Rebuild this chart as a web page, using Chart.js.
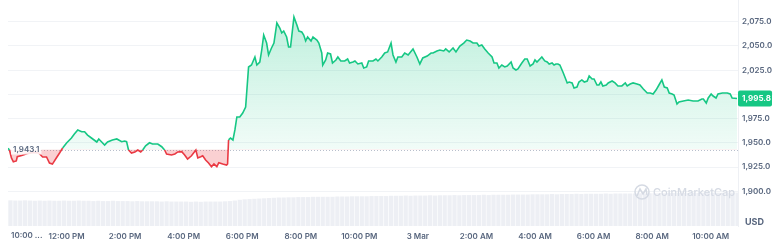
<!DOCTYPE html>
<html>
<head>
<meta charset="utf-8">
<script src="https://cdn.jsdelivr.net/npm/chart.js@4.4.1/dist/chart.umd.min.js"></script>
<style>
  html, body { margin: 0; padding: 0; background: #fff; }
  #wrap { width: 775px; height: 244px; position: relative; }
</style>
</head>
<body>
<div id="wrap"><canvas id="priceChart" width="775" height="244"></canvas></div>
<script>
// minutes since 10:00 AM (2 Mar)
const times = [0,3,7,11,17,19,28,40,52,63,71,79,85,91,99,106,112,120,130,136,143,151,157,163,171,182,186,192,198,204,214,223,233,239,243,247,253,260,266,272,276,282,290,296,307,315,321,325,335,342,348,356,362,368,376,385,389,395,399,405,411,417,422,428,432,440,448,450,452,456,461,465,469,475,481,487,493,499,506,510,516,520,524,530,534,540,545,551,557,561,565,571,575,579,586,592,596,602,606,610,614,621,625,633,637,643,645,651,655,661,665,672,676,682,690,696,700,707,711,717,725,729,735,739,748,754,758,766,772,778,785,789,795,799,807,813,820,830,838,844,850,859,867,871,879,885,893,897,904,912,918,926,934,940,947,953,961,965,971,977,984,992,996,1002,1006,1012,1018,1023,1031,1035,1041,1045,1053,1059,1064,1070,1076,1080,1084,1090,1094,1100,1105,1109,1115,1119,1123,1127,1131,1138,1146,1150,1156,1160,1166,1170,1176,1181,1187,1191,1197,1201,1207,1211,1215,1219,1226,1230,1238,1244,1250,1258,1265,1269,1275,1281,1289,1295,1302,1310,1316,1322,1328,1334,1340,1345,1351,1355,1361,1365,1371,1375,1384,1394,1404,1414,1422,1425,1431,1435,1441,1445,1451,1455,1464,1474,1480,1484,1494];

// price in USD
const prices = [1944.5,1942.6,1934.4,1930.5,1931.3,1935.7,1937.0,1939.0,1940.0,1939.5,1935.4,1935.4,1929.2,1928.1,1934.4,1939.8,1944.7,1949.8,1955.0,1959.1,1963.3,1961.5,1961.5,1958.0,1955.0,1950.9,1954.0,1950.9,1947.7,1950.9,1952.9,1954.0,1951.2,1951.9,1951.2,1942.6,1939.5,1940.6,1942.6,1940.6,1942.6,1947.0,1950.1,1948.8,1948.8,1946.0,1942.6,1938.5,1937.5,1938.5,1940.6,1940.9,1937.5,1933.3,1936.7,1942.6,1934.4,1935.7,1936.7,1932.3,1929.2,1925.4,1928.2,1925.4,1929.5,1928.2,1927.1,1928.2,1953.0,1955.0,1953.0,1963.3,1976.7,1976.7,1980.8,1987.0,2028.3,2030.3,2038.6,2030.3,2033.4,2045.8,2061.3,2053.0,2040.7,2047.9,2053.0,2073.7,2068.5,2063.4,2065.4,2059.2,2048.9,2048.9,2079.9,2071.6,2065.4,2064.4,2061.3,2055.1,2059.2,2055.1,2059.2,2056.1,2053.0,2042.7,2030.3,2035.5,2042.7,2041.7,2032.4,2035.5,2038.6,2034.5,2034.5,2036.5,2032.4,2033.4,2034.5,2031.4,2032.4,2027.2,2028.3,2034.5,2034.5,2036.5,2034.5,2038.6,2042.7,2043.8,2053.0,2040.7,2033.4,2038.6,2038.6,2042.7,2040.7,2046.9,2038.6,2031.4,2037.6,2039.6,2042.7,2042.7,2044.8,2045.8,2044.8,2046.9,2043.8,2047.9,2043.8,2049.9,2053.0,2056.1,2055.1,2053.0,2053.0,2049.9,2051.0,2046.9,2042.7,2038.6,2032.4,2032.4,2027.2,2030.3,2028.3,2029.3,2033.4,2027.2,2025.2,2026.2,2032.4,2036.5,2036.5,2029.3,2031.4,2035.5,2033.4,2036.5,2038.6,2034.5,2033.4,2031.4,2032.4,2030.3,2031.4,2031.4,2030.3,2022.1,2011.8,2012.8,2011.8,2006.6,2007.6,2012.8,2014.9,2012.8,2013.8,2019.0,2015.9,2015.9,2009.7,2009.7,2012.8,2008.7,2009.7,2011.8,2013.8,2011.8,2008.7,2008.7,2011.8,2008.7,2010.7,2011.8,2010.7,2009.7,2005.6,2001.4,2001.4,2000.4,2004.5,2009.7,2014.9,2007.6,2006.6,2001.4,2000.4,1999.4,1990.1,1992.2,1993.2,1994.2,1993.2,1993.2,1995.3,1995.3,1991.1,1996.3,2000.4,1998.3,1996.3,2000.4,2001.4,2001.4,2000.4,1996.3,1995.8];

// 24h volume, one bar per 10 minutes (billions USD)
const volumes = [
  1.01,1.00,1.00,1.01,1.00,0.99, 1.00,0.99,1.00,0.99,0.99,1.00,
  0.99,0.99,1.00,0.99,0.99,0.98, 0.99,0.98,0.98,0.99,0.98,0.98,
  0.98,0.97,0.98,0.97,0.97,0.97, 0.97,0.96,0.97,0.96,0.96,0.96,
  0.96,0.95,0.96,0.95,0.96,0.96, 0.96,0.96,0.97,0.98,1.00,1.03,
  1.05,1.06,1.07,1.08,1.09,1.10, 1.11,1.12,1.12,1.13,1.13,1.14,
  1.14,1.14,1.15,1.15,1.15,1.15, 1.15,1.16,1.16,1.16,1.17,1.17,
  1.17,1.17,1.18,1.18,1.18,1.18, 1.19,1.19,1.19,1.20,1.19,1.20,
  1.20,1.20,1.21,1.20,1.21,1.21, 1.21,1.22,1.21,1.22,1.22,1.22,
  1.22,1.23,1.22,1.23,1.23,1.23, 1.23,1.24,1.24,1.24,1.24,1.25,
  1.25,1.25,1.25,1.26,1.25,1.26, 1.26,1.26,1.27,1.26,1.27,1.27,
  1.27,1.27,1.28,1.27,1.28,1.28, 1.28,1.28,1.28,1.29,1.28,1.29,
  1.29,1.29,1.29,1.30,1.30,1.30, 1.30,1.30,1.31,1.30,1.31,1.31,
  1.31,1.31,1.31,1.32,1.32,1.32
];
const volumeStep = 10; // minutes per volume bar

const baseline = 1943.1;
const lastPrice = 1995.8;
const xTickValues = [120,240,360,480,600,720,840,960,1080,1200,1320,1440];
const xTickLabels = ['12:00 PM','2:00 PM','4:00 PM','6:00 PM','8:00 PM','10:00 PM','3 Mar','2:00 AM','4:00 AM','6:00 AM','8:00 AM','10:00 AM'];
const firstTickLabel = '10:00 ...';
const yTickValues = [1900,1925,1950,1975,2000,2025,2050,2075];

if (times.length !== prices.length) {
    throw new Error('times/prices length mismatch: ' + times.length + ' vs ' + prices.length);
}

const GREEN = '#16c784';
const RED = '#ea3943';
const GRAY_TEXT = '#58667e';
const FONT = 'Inter, "Noto Sans", sans-serif';

const fmt = v => v.toLocaleString('en-US', { minimumFractionDigits: 1, maximumFractionDigits: 1 });

// 基准线、价格标签、水印
const overlayPlugin = {
    id: 'overlay',
    beforeDatasetsDraw(chart) {
        const { ctx, chartArea, scales } = chart;
        const y = Math.round(scales.y.getPixelForValue(baseline)) + 0.5;
        ctx.save();
        ctx.strokeStyle = '#b8bfcc';
        ctx.lineWidth = 1;
        ctx.setLineDash([1, 2]);
        ctx.beginPath();
        ctx.moveTo(chartArea.left, y);
        ctx.lineTo(chartArea.right, y);
        ctx.stroke();
        ctx.restore();

        // watermark
        ctx.save();
        ctx.strokeStyle = '#d5dae3';
        ctx.fillStyle = '#d5dae3';
        ctx.lineWidth = 1.5;
        ctx.beginPath();
        ctx.arc(642, 192, 7, 0, Math.PI * 2);
        ctx.stroke();
        ctx.beginPath();
        ctx.moveTo(637, 196);
        ctx.lineTo(640, 189);
        ctx.lineTo(643, 194);
        ctx.lineTo(646, 189);
        ctx.lineTo(647, 195);
        ctx.stroke();
        ctx.font = '500 11px ' + FONT;
        ctx.textBaseline = 'middle';
        ctx.fillText('CoinMarketCap', 653, 193);
        ctx.restore();
    },
    afterDatasetsDraw(chart) {
        const { ctx, chartArea, scales } = chart;
        ctx.save();
        // baseline label
        const by = scales.y.getPixelForValue(baseline);
        ctx.font = '600 8px ' + FONT;
        const label = fmt(baseline);
        const w = ctx.measureText(label).width;
        ctx.fillStyle = 'rgba(255,255,255,0.85)';
        ctx.fillRect(chartArea.left + 3, by - 5, w + 4, 10);
        ctx.fillStyle = GRAY_TEXT;
        ctx.textBaseline = 'middle';
        ctx.fillText(label, chartArea.left + 5, by);

        // last price tag
        const py = scales.y.getPixelForValue(lastPrice);
        const x0 = chartArea.right;
        ctx.fillStyle = GREEN;
        ctx.beginPath();
        ctx.roundRect(x0, py - 8, 34, 16, 2);
        ctx.fill();
        ctx.fillStyle = '#fff';
        ctx.font = '700 8px ' + FONT;
        ctx.fillText(fmt(lastPrice), x0 + 4, py + 0.5);

        // first (cut) x label
        ctx.fillStyle = GRAY_TEXT;
        ctx.font = '600 8px ' + FONT;
        ctx.fillText(firstTickLabel, 11, 236);

        // USD
        ctx.font = '700 9px ' + FONT;
        ctx.fillText('USD', 745, 222);
        ctx.restore();
    }
};

function initPriceChart() {
    const canvas = document.getElementById('priceChart');
    const ctx = canvas.getContext('2d');

    const priceData = times.map((t, i) => ({ x: t, y: prices[i] }));
    const volumeData = volumes.map((v, i) => ({ x: i * volumeStep + 5, y: v }));

    const aboveFill = (context) => {
        const { chart } = context;
        const { chartArea, scales } = chart;
        if (!chartArea) return 'rgba(22,199,132,0.15)';
        const by = scales.y.getPixelForValue(baseline);
        const g = chart.ctx.createLinearGradient(0, chartArea.top, 0, by);
        g.addColorStop(0, 'rgba(22,199,132,0.30)');
        g.addColorStop(1, 'rgba(22,199,132,0.06)');
        return g;
    };

    new Chart(ctx, {
        data: {
            datasets: [{
                type: 'line',
                label: 'Price',
                data: priceData,
                yAxisID: 'y',
                xAxisID: 'x',
                borderWidth: 1.6,
                pointRadius: 0,
                tension: 0,
                order: 1,
                borderColor: GREEN,
                segment: {
                    borderColor: s => ((s.p0.parsed.y + s.p1.parsed.y) / 2 < baseline ? RED : GREEN)
                },
                fill: {
                    target: { value: baseline },
                    above: aboveFill,
                    below: 'rgba(234,57,67,0.24)'
                }
            }, {
                type: 'bar',
                label: 'Volume',
                data: volumeData,
                yAxisID: 'yv',
                xAxisID: 'x',
                backgroundColor: 'rgba(214,220,230,0.45)',
                barThickness: 3.6,
                order: 2
            }]
        },
        options: {
            responsive: false,
            animation: false,
            devicePixelRatio: 1,
            layout: { padding: { left: 8, top: 0, right: 0, bottom: 0 } },
            plugins: {
                legend: { display: false },
                tooltip: { enabled: false }
            },
            scales: {
                x: {
                    type: 'linear',
                    offset: false,
                    min: 0,
                    max: 1496,
                    grid: { display: false, drawTicks: false, offset: false },
                    border: { display: false },
                    afterBuildTicks: scale => {
                        scale.ticks = xTickValues.map(v => ({ value: v }));
                    },
                    afterFit: scale => {
                        scale.height = 18;
                        scale.paddingLeft = 0;
                        scale.paddingRight = 0;
                    },
                    ticks: {
                        autoSkip: false,
                        maxRotation: 0,
                        padding: 6,
                        color: GRAY_TEXT,
                        font: { family: FONT, size: 8, weight: '600' },
                        callback: v => {
                            const i = xTickValues.indexOf(v);
                            return i >= 0 ? xTickLabels[i] : '';
                        }
                    }
                },
                y: {
                    position: 'right',
                    min: 1864.2,
                    max: 2097.4,
                    afterBuildTicks: scale => {
                        scale.ticks = yTickValues.map(v => ({ value: v }));
                    },
                    afterFit: scale => {
                        scale.width = 37;
                        scale.paddingTop = 0;
                        scale.paddingBottom = 0;
                    },
                    grid: { color: '#f1f3f6', drawTicks: false },
                    border: { display: true, color: '#eef0f4' },
                    ticks: {
                        padding: 4,
                        color: GRAY_TEXT,
                        font: { family: FONT, size: 8, weight: '600' },
                        callback: v => fmt(v)
                    }
                },
                yv: {
                    display: false,
                    min: 0,
                    max: 9
                }
            }
        },
        plugins: [overlayPlugin]
    });
}

document.addEventListener('DOMContentLoaded', initPriceChart);
</script>
</body>
</html>
